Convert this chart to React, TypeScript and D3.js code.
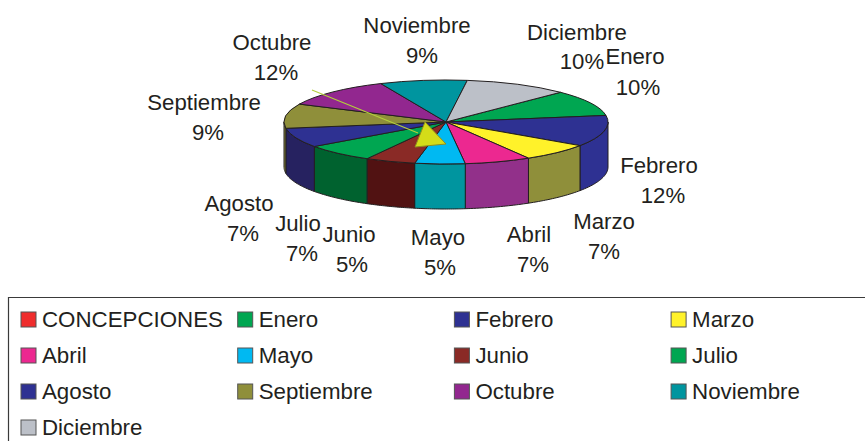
import React from "react";
import * as d3 from "d3";

const months = ["Enero","Febrero","Marzo","Abril","Mayo","Junio","Julio","Agosto","Septiembre","Octubre","Noviembre","Diciembre"];
const percents = [10,12,7,7,5,5,7,7,9,12,9,10];
const shares = [10,12,7,6.6,5,5,7,7.5,9.4,11.4,8.7,10.4];
const topColors = ["#00a651","#2e3192","#fff22a","#ec2890","#00b9f2","#8a2a26","#00a651","#2e3192","#8f8f3a","#92278f","#00959f","#bcc0c8"];
const sideColors = ["#00a651","#2e3192","#8f8f3a","#92308a","#00959f","#511212","#00622f","#262260","#8f8f3a","#92278f","#00959f","#bcc0c8"];
const nameX = [635,659,604,529,438,349,298,239,204,272,417,577];
const nameY = [64,173,229,242,245,242,231,211,110,50,33,40];
const pctX = [638,663,604,533,440,352,302,243,208,276,422,582];
const pctY = [95,203,259,272,275,272,261,241,140,80,63,69];
const legendNames = ["CONCEPCIONES",...months];
const legendColors = ["#ef2d2d",...topColors];

const cx = 446, cy = 122, rx = 162, ry = 42, depth = 45;
const deg = Math.PI / 180;
const INK = "#231f20";

function pt(a: number, dy = 0): [number, number] {
  return [cx + rx * Math.sin(a), cy - ry * Math.cos(a) + dy];
}

export default function App() {
  const pie = d3.pie<number>().sort(null).startAngle(45 * deg).endAngle(405 * deg);
  const arcs = pie(shares);
  const arc = d3.arc<d3.PieArcDatum<number>>().innerRadius(0).outerRadius(rx);
  const lo = Math.PI / 2, hi = Math.PI * 1.5;
  const sides = arcs.map((d, i) => {
    const a0 = Math.max(d.startAngle, lo), a1 = Math.min(d.endAngle, hi);
    if (a1 <= a0) return null;
    const as = d3.range(0, 25).map((k) => a0 + ((a1 - a0) * k) / 24);
    const poly: [number, number][] = [...as.map((a) => pt(a)), ...as.slice().reverse().map((a) => pt(a, depth))];
    return <path key={i} d={(d3.line()(poly) || "") + "Z"} fill={sideColors[i]} stroke={INK} strokeWidth={1} />;
  });
  const textFont = "'Liberation Sans', Arial, sans-serif";
  return (
    <svg width={865} height={441} style={{ position: "absolute", left: 0, top: 0, background: "#fff" }} fontFamily={textFont}>
      {sides}
      <g transform={`translate(${cx},${cy}) scale(1,${ry / rx})`}>
        {arcs.map((d, i) => (
          <path key={i} d={arc(d) || ""} fill={topColors[i]} stroke={INK} strokeWidth={1} vectorEffect="non-scaling-stroke" />
        ))}
      </g>
      <line x1={cx - 134} y1={cy - 32} x2={cx - 28} y2={cy + 11} stroke="#b3cf3c" strokeWidth={1.2} />
      <polygon points={`${cx - 21},${cy} ${cx},${cy + 22} ${cx - 31},${cy + 25}`} fill="#d4dc18" stroke="#8f8f1e" strokeWidth={1} />
      {months.map((m, i) => (
        <g key={m} fontSize={22.2} fill={INK} textAnchor="middle">
          <text x={nameX[i]} y={nameY[i]}>{m}</text>
          <text x={pctX[i]} y={pctY[i]}>{percents[i]}%</text>
        </g>
      ))}
      <path d="M865,297.5H8.5V441" fill="none" stroke="#3a3a3a" strokeWidth={1.2} />
      {legendNames.map((n, i) => {
        const col = i % 4, row = Math.floor(i / 4);
        const x = 21 + col * 216.7, y = 312 + row * 36;
        return (
          <g key={n}>
            <rect x={x} y={y} width={15} height={15} fill={legendColors[i]} stroke="#555" strokeWidth={1} />
            <text x={x + 21} y={y + 15} fontSize={22.3} fill={INK}>{n}</text>
          </g>
        );
      })}
    </svg>
  );
}
